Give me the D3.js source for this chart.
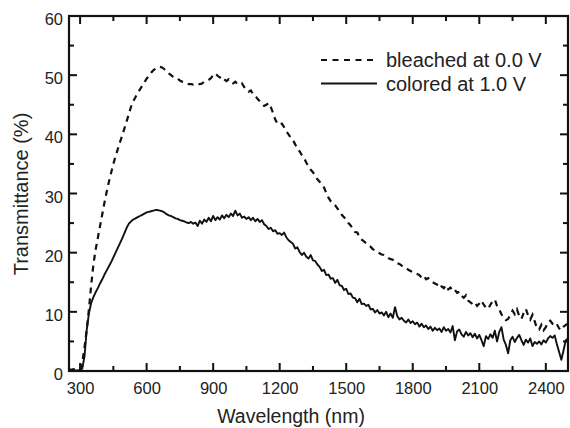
<!DOCTYPE html>
<html><head><meta charset="utf-8">
<script src="https://cdn.jsdelivr.net/npm/d3@7/dist/d3.min.js"></script>
<style>body{margin:0;background:#fff}svg{display:block}text{font-family:"Liberation Sans",Arial,sans-serif;fill:#222}</style>
</head><body>
<svg id="c" width="570" height="428"></svg>
<script>
// wavelength grid (nm), 250..2500 step 10
const wavelengths = d3.range(250, 2501, 10);
// bleached at 0.0 V (%)
const bleached = [
0.3,0.2,0.3,0.2,0.3,0.3,1.5,4,7,10.5,14.5,18,20.5,22.5,24.5,26.5,28.5,30.3,32,33.5,
35,36.3,37.5,38.7,39.8,41,42.2,43.5,44.7,45.6,46.3,47,47.6,48.2,48.8,49.4,49.9,50.4,50.8,51.1,
51.3,51.4,51.3,51.0,50.7,50.3,50.0,49.7,49.5,49.4,49.1,48.9,48.8,48.6,48.5,48.5,48.4,48.4,48.5,48.5,
48.6,48.9,49.0,49.2,49.5,50.0,50.3,49.9,49.6,49.8,49.3,49.0,49.3,48.9,48.6,48.9,48.5,48.4,48.6,48.0,
47.6,47.2,47.4,46.8,46.5,46.0,45.6,45.2,44.8,45.0,45.3,44.6,43.6,42.5,41.8,41.6,41.8,41.2,40.5,40.0,
39.4,39.0,38.3,37.6,37.1,36.5,36.0,35.2,34.6,34.0,33.6,33.0,32.4,32.0,31.6,31.0,30.1,29.3,28.7,28.4,
28.0,27.5,27.0,26.4,26.0,25.6,25.0,24.6,24.0,23.5,23.4,22.6,22.2,21.9,21.6,21.3,21.0,20.6,20.3,20.1,
19.9,19.7,19.6,19.4,19.1,18.9,18.8,18.4,18.2,18.1,17.8,17.6,17.4,17.1,16.9,16.7,16.5,16.4,16.2,15.8,
16.1,15.5,15.7,15.3,15.0,14.8,14.6,14.9,14.3,14.0,14.5,13.8,14.1,13.5,13.7,13.2,13.4,12.7,12.4,12.8,
11.9,11.6,11.3,11.6,11.0,11.4,11.9,11.2,10.7,10.5,11.2,11.8,12.1,11.0,10.4,9.6,8.9,8.6,8.8,9.5,
10.2,9.6,10.4,9.3,8.8,9.8,10.5,9.4,8.7,9.5,8.4,7.2,7.0,7.8,6.9,7.4,8.3,8.5,8.0,7.6,
7.9,7.2,6.9,7.5,7.8,8.0
];
// colored at 1.0 V (%)
const colored = [
0.1,0.1,0.1,0.1,0.1,0.2,0.4,2.5,7.0,9.8,11.5,12.5,13.3,14.0,14.8,15.5,16.3,17.0,17.7,18.4,
19.2,20.0,20.8,21.6,22.4,23.3,24.2,24.9,25.3,25.6,25.8,26.0,26.2,26.4,26.6,26.8,26.9,27.0,27.1,27.2,
27.2,27.1,27.0,26.8,26.5,26.3,26.2,26.0,25.8,25.7,25.5,25.4,25.3,25.1,25.0,25.2,24.9,25.1,24.5,25.4,
24.9,25.6,25.2,25.9,25.3,26.2,25.5,26.0,25.6,26.3,25.8,26.4,26.0,26.6,26.2,27.1,26.3,26.6,25.9,26.1,
25.7,26.0,25.5,25.9,25.3,25.7,25.2,25.5,24.8,24.5,24.0,24.2,23.6,23.8,23.2,23.3,23.0,23.4,22.6,22.1,
21.8,21.5,20.7,20.9,20.1,19.6,20.0,19.3,19.0,19.6,18.7,18.6,18.0,17.6,16.9,17.1,16.2,16.3,15.6,15.7,
14.9,15.4,14.5,14.4,13.7,13.9,13.0,13.1,12.4,12.3,11.6,12.2,11.3,11.4,11.0,11.2,10.4,10.5,9.9,10.3,
9.7,9.9,9.4,10.0,9.1,9.7,9.0,10.8,9.3,8.7,9.0,8.5,8.2,8.7,8.1,8.4,7.9,8.2,7.5,8.0,
7.4,7.7,7.1,7.5,6.8,7.3,6.9,7.2,6.6,7.4,6.8,7.1,6.5,7.6,5.2,6.7,7.0,6.2,5.8,6.6,
6.0,6.4,5.7,6.3,5.5,6.1,5.2,4.2,5.9,5.4,6.2,5.6,6.8,5.0,6.6,7.4,5.3,4.4,3.0,5.2,
5.8,4.9,5.6,6.1,5.2,4.4,5.3,4.8,5.5,4.2,4.9,4.6,5.0,4.5,5.2,4.8,5.5,5.9,5.6,6.0,
4.5,3.2,1.9,3.5,5.2,5.5
];
const xTicks = [300,600,900,1200,1500,1800,2100,2400];
const xMinor = [450,750,1050,1350,1650,1950,2250];
const yTicks = [0,10,20,30,40,50,60];
const yMinor = [5,15,25,35,45,55];
const legendLabels = ["bleached at 0.0 V","colored at 1.0 V"];

const svg = d3.select("#c");
const L=69,R=568,T=16,B=371;
const x = d3.scaleLinear().domain([250,2500]).range([L,R]);
const y = d3.scaleLinear().domain([0,60]).range([B,T]);
const ink="#111";

// frame
svg.append("rect").attr("x",L).attr("y",T).attr("width",R-L).attr("height",B-T)
  .attr("fill","none").attr("stroke",ink).attr("stroke-width",2.2);

// tick marks (inward, on all four sides)
const tk = svg.append("g").attr("fill",ink);
function vt(vals,len){
  tk.selectAll(null).data(vals).enter().append("rect")
    .attr("x",d=>x(d)-1).attr("width",2).attr("y",B-len).attr("height",len);
  tk.selectAll(null).data(vals).enter().append("rect")
    .attr("x",d=>x(d)-1).attr("width",2).attr("y",T).attr("height",len);
}
function ht(vals,len){
  tk.selectAll(null).data(vals).enter().append("rect")
    .attr("y",d=>y(d)-1).attr("height",2).attr("x",L).attr("width",len);
  tk.selectAll(null).data(vals).enter().append("rect")
    .attr("y",d=>y(d)-1).attr("height",2).attr("x",R-len).attr("width",len);
}
vt(xTicks,8); vt(xMinor,5); ht(yTicks,8); ht(yMinor,5);

// tick labels via axes (no domain, no tick lines)
const bx = svg.append("g").attr("transform",`translate(0,${B})`)
  .call(d3.axisBottom(x).tickValues(xTicks).tickSize(0).tickPadding(11).tickFormat(d3.format("d")));
bx.select(".domain").remove();
bx.selectAll("text").attr("fill","#222").style("font-size","16.5px").style("font-family","Liberation Sans, Arial, sans-serif");
const ly = svg.append("g").attr("transform",`translate(${L},0)`)
  .call(d3.axisLeft(y).tickValues(yTicks).tickSize(0).tickPadding(6).tickFormat(d3.format("d")));
ly.select(".domain").remove();
ly.selectAll("text").attr("fill","#222").attr("dy","0.52em").style("font-size","16.5px").style("font-family","Liberation Sans, Arial, sans-serif");

svg.append("clipPath").attr("id","clp").append("rect").attr("x",L).attr("y",T-2).attr("width",R-L+1).attr("height",B-T+2);

const line = d3.line().x((d,i)=>x(wavelengths[i])).y(d=>y(d));
svg.append("path").datum(bleached).attr("d",line).attr("clip-path","url(#clp)")
  .attr("fill","none").attr("stroke",ink).attr("stroke-width",2.2).attr("stroke-dasharray","6,5");
svg.append("path").datum(colored).attr("d",line).attr("clip-path","url(#clp)")
  .attr("fill","none").attr("stroke",ink).attr("stroke-width",1.9).attr("stroke-linejoin","round");

// legend
const lg = svg.append("g");
[0,1].forEach(i=>{
  const yy = 60 + i*23.5;
  lg.append("line").attr("x1",321).attr("x2",377).attr("y1",yy).attr("y2",yy)
    .attr("stroke",ink).attr("stroke-width",i?1.9:2).attr("stroke-dasharray",i?null:"6,5.5");
  lg.append("text").attr("x",386).attr("y",yy+7).style("font-size","20px").text(legendLabels[i]);
});

// titles
svg.append("text").attr("x",291).attr("y",423).attr("text-anchor","middle").style("font-size","19.5px").text("Wavelength (nm)");
svg.append("text").attr("transform","translate(28,194) rotate(-90)").attr("text-anchor","middle").style("font-size","20px").text("Transmittance (%)");
</script>
</body></html>
